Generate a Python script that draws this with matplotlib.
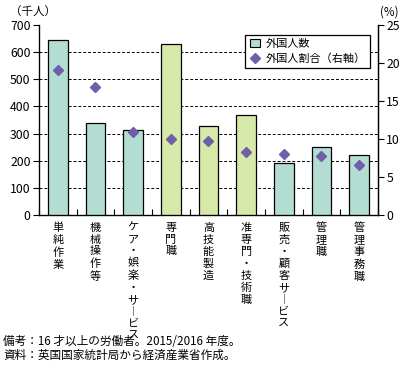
import matplotlib
matplotlib.use("Agg")
import matplotlib.pyplot as plt
from matplotlib.lines import Line2D
from matplotlib.patches import Patch
import numpy as np

plt.rcParams['font.family'] = ['Noto Sans CJK JP', 'DejaVu Sans']

categories = ["単純作業", "機械操作等", "ケア・娯楽・サ︱ビス", "専門職", "高技能製造",
              "准専門・技術職", "販売・顧客サ︱ビス", "管理職", "管理事務職"]
counts = [645, 340, 314, 630, 328, 369, 192, 250, 222]
shares = [19.1, 16.8, 10.9, 10.0, 9.8, 8.3, 8.0, 7.7, 6.6]
group = ["a", "a", "a", "b", "b", "b", "a", "a", "a"]
left_ticks = [0, 100, 200, 300, 400, 500, 600, 700]
right_ticks = [0, 5, 10, 15, 20, 25]

col_a = "#b3ddd3"
col_b = "#d6e9a9"
col_pt = "#6e5fa8"

fig = plt.figure(figsize=(4.05, 3.75), dpi=100)
ax = fig.add_axes([0.0963, 0.4267, 0.837, 0.5066])
x = np.arange(len(categories))
colors = [col_a if g == "a" else col_b for g in group]
ax.bar(x, counts, width=0.52, color=colors, edgecolor="black", linewidth=0.9, zorder=3)
ax.set_xlim(-0.5, len(categories) - 0.5)
ax.set_ylim(0, 700)
ax.set_yticks(left_ticks)
ax.tick_params(axis='y', direction='out', length=4, width=0.8, labelsize=8.8, pad=2)
for v in left_ticks[1:-1]:
    ax.axhline(v, color="black", linestyle=(0, (3, 2)), linewidth=0.7, zorder=1)
ax.set_xticks(np.arange(len(categories) + 1) - 0.5)
ax.set_xticklabels([])
ax.tick_params(axis='x', direction='in', length=4, width=0.8)
ax.spines['top'].set_visible(False)
for s in ['left', 'right', 'bottom']:
    ax.spines[s].set_linewidth(0.9)

ax2 = ax.twinx()
ax2.set_ylim(0, 25)
ax2.set_yticks(right_ticks)
ax2.tick_params(axis='y', direction='out', length=4, width=0.8, labelsize=8.8, pad=2)
ax2.spines['top'].set_visible(False)
ax2.spines['right'].set_linewidth(0.9)
ax2.plot(x, shares, linestyle="none", marker="D", markersize=5.5, color=col_pt, zorder=5)

for i, lab in enumerate(categories):
    ax.text(i, -0.04, "\n".join(lab), transform=ax.get_xaxis_transform(),
            ha="center", va="top", fontsize=8, linespacing=1.24)

handles = [Patch(facecolor=col_a, edgecolor="black", linewidth=0.8),
           Line2D([], [], linestyle="none", marker="D", markersize=5, color=col_pt)]
leg = ax2.legend(handles, ["外国人数", "外国人割合（右軸）"], loc="upper right",
                 bbox_to_anchor=(0.976, 0.95), fontsize=8, frameon=True, fancybox=False,
                 edgecolor="black", framealpha=1, handlelength=0.9, handletextpad=0.5,
                 borderpad=0.4, labelspacing=0.35, borderaxespad=0)
leg.get_frame().set_linewidth(0.9)

fig.text(0.025, 0.968, "（千人）", fontsize=8.3, ha="left", va="center")
fig.text(0.985, 0.968, "(%)", fontsize=8.3, ha="right", va="center")
fig.text(0.008, 0.089, "備考：16 才以上の労働者。2015/2016 年度。", fontsize=8.4, ha="left", va="center")
fig.text(0.008, 0.053, "資料：英国国家統計局から経済産業省作成。", fontsize=8.4, ha="left", va="center")

fig.savefig("out.png", dpi=100)
